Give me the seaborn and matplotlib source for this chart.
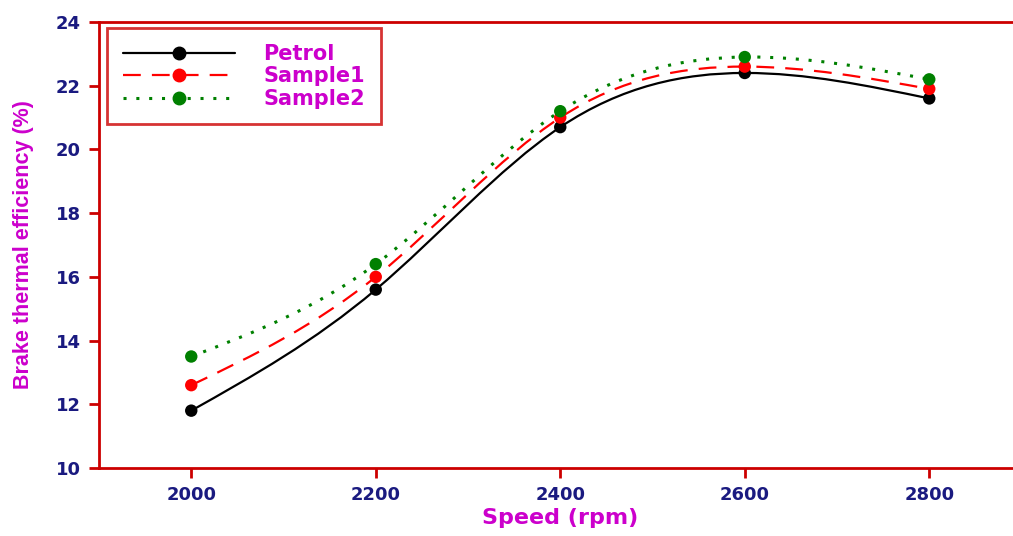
import numpy as np
import pandas as pd
import matplotlib
matplotlib.use("Agg")
import matplotlib.pyplot as plt
import seaborn as sns
from matplotlib.path import Path
from matplotlib.patches import PathPatch
from matplotlib.lines import Line2D

# Data
speed = [2000, 2200, 2400, 2600, 2800]
petrol = [11.8, 15.6, 20.7, 22.4, 21.6]
sample1 = [12.6, 16.0, 21.0, 22.6, 21.9]
sample2 = [13.5, 16.4, 21.2, 22.9, 22.2]
series_names = ["Petrol", "Sample1", "Sample2"]

SPINE = "#CC0000"
TICK_TXT = "#1A1A80"
LABEL_TXT = "#CC00CC"

sns.set_style("white")
plt.rcParams["font.family"] = ["DejaVu Sans"]


def spline_path(x, y):
    """Natural cubic spline through the points, expressed as bezier segments."""
    x = np.asarray(x, float)
    y = np.asarray(y, float)
    n = len(x)
    h = np.diff(x)
    # solve for second derivatives (natural end conditions)
    A = np.zeros((n, n))
    b = np.zeros(n)
    A[0, 0] = A[-1, -1] = 1.0
    for i in range(1, n - 1):
        A[i, i - 1] = h[i - 1]
        A[i, i] = 2 * (h[i - 1] + h[i])
        A[i, i + 1] = h[i]
        b[i] = 6 * ((y[i + 1] - y[i]) / h[i] - (y[i] - y[i - 1]) / h[i - 1])
    M = np.linalg.solve(A, b)
    slope = np.zeros(n)
    for i in range(n - 1):
        slope[i] = (y[i + 1] - y[i]) / h[i] - h[i] * (2 * M[i] + M[i + 1]) / 6
    slope[-1] = (y[-1] - y[-2]) / h[-1] + h[-1] * (M[-2] + 2 * M[-1]) / 6
    verts = [(x[0], y[0])]
    codes = [Path.MOVETO]
    for i in range(n - 1):
        d = h[i] / 3
        verts += [(x[i] + d, y[i] + slope[i] * d),
                  (x[i + 1] - d, y[i + 1] - slope[i + 1] * d),
                  (x[i + 1], y[i + 1])]
        codes += [Path.CURVE4] * 3
    return Path(verts, codes)


df = pd.DataFrame({"speed": speed * 3,
                   "bte": petrol + sample1 + sample2,
                   "fuel": np.repeat(series_names, len(speed))})

styles = {
    "Petrol": dict(color="black", ls="-", lw=1.6),
    "Sample1": dict(color="#FF0000", ls=(0, (8, 5)), lw=1.6),
    "Sample2": dict(color="#008000", ls=(0, (1, 3.2)), lw=2.2),
}

fig = plt.figure(figsize=(10.13, 5.36), dpi=100)
ax = fig.add_axes([99 / 1013, 1 - 468 / 536, 922.5 / 1013, 446 / 536])

for name, vals in zip(series_names, [petrol, sample1, sample2]):
    st = styles[name]
    ax.add_patch(PathPatch(spline_path(speed, vals), fill=False,
                           edgecolor=st["color"], linestyle=st["ls"],
                           linewidth=st["lw"], zorder=2))

sns.scatterplot(data=df, x="speed", y="bte", hue="fuel",
                palette={k: v["color"] for k, v in styles.items()},
                s=80, edgecolor="none", legend=False, zorder=3, ax=ax)

ax.set_xlim(1900, 2900)
ax.set_ylim(10, 24)
ax.set_xticks(speed)
ax.set_yticks(np.arange(10, 25, 2))

for side in ["left", "bottom", "top", "right"]:
    ax.spines[side].set_color(SPINE)
    ax.spines[side].set_linewidth(2)

ax.tick_params(axis="both", which="major", direction="out", length=7, width=2,
               color=SPINE, labelcolor=TICK_TXT, labelsize=13, pad=6,
               bottom=True, left=True, top=False, right=False)
for lab in ax.get_xticklabels() + ax.get_yticklabels():
    lab.set_fontweight("bold")

ax.set_xlabel("Speed (rpm)", color=LABEL_TXT, fontsize=16, fontweight="bold",
              labelpad=3)
ax.set_ylabel("Brake thermal efficiency (%)", color=LABEL_TXT, fontsize=15.5,
              fontweight="bold", labelpad=16,
              family=["Liberation Sans Narrow", "Liberation Sans", "DejaVu Sans"])

handles = [Line2D([], [], color=styles[n]["color"], ls=styles[n]["ls"],
                  lw=styles[n]["lw"], marker="o", markersize=9) for n in series_names]
leg = ax.legend(handles, series_names, loc="upper left",
                bbox_to_anchor=(0.009, 0.986), borderaxespad=0,
                fancybox=False, handlelength=5.4, handletextpad=1.35,
                borderpad=0.75, labelspacing=0.12, numpoints=1,
                prop={"weight": "bold", "size": 15})
leg.get_frame().set_edgecolor(SPINE)
leg.get_frame().set_linewidth(2)
for t in leg.get_texts():
    t.set_color(LABEL_TXT)

fig.savefig("out.png", dpi=100)
